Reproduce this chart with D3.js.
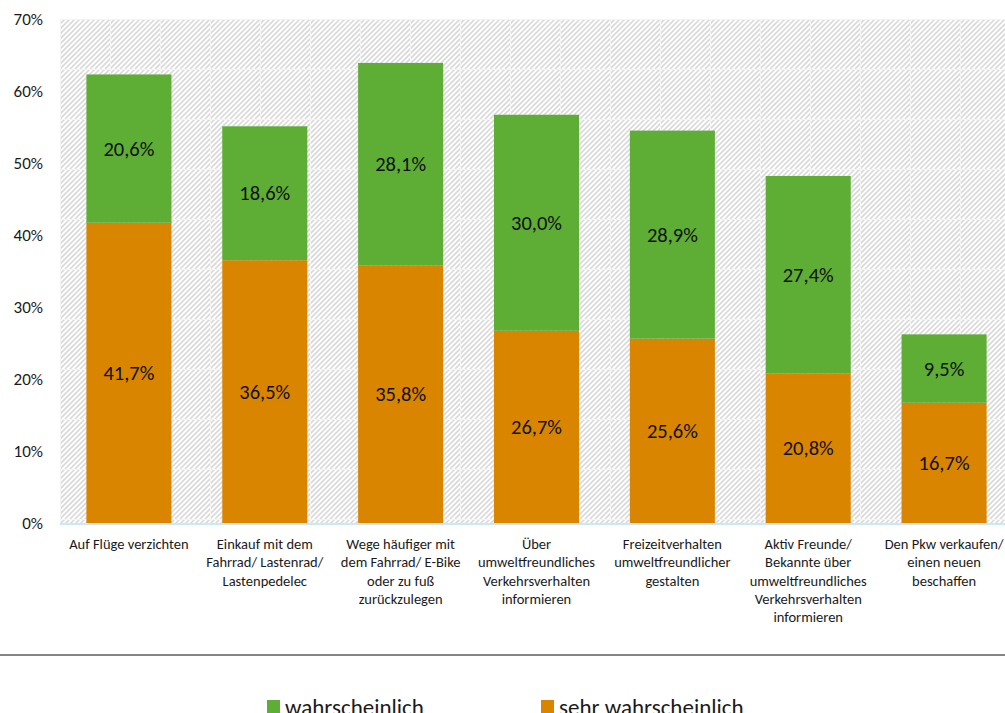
<!DOCTYPE html>
<html><head><meta charset="utf-8">
<script src="https://cdn.jsdelivr.net/npm/d3@7"></script>
<style>
html,body{margin:0;padding:0;background:#fff;overflow:hidden;}
svg{display:block;font-family:Carlito,Calibri,Lato,"Open Sans",sans-serif;}
</style></head><body>
<svg id="chart" width="1005" height="713"></svg>
<script>
const categories = [
  ["Auf Flüge verzichten"],
  ["Einkauf mit dem","Fahrrad/ Lastenrad/","Lastenpedelec"],
  ["Wege häufiger mit","dem Fahrrad/ E-Bike","oder zu fuß","zurückzulegen"],
  ["Über","umweltfreundliches","Verkehrsverhalten","informieren"],
  ["Freizeitverhalten","umweltfreundlicher","gestalten"],
  ["Aktiv Freunde/","Bekannte über","umweltfreundliches","Verkehrsverhalten","informieren"],
  ["Den Pkw verkaufen/","einen neuen","beschaffen"]
];
const sehrWahrscheinlich = [41.7, 36.5, 35.8, 26.7, 25.6, 20.8, 16.7];
const wahrscheinlich = [20.6, 18.6, 28.1, 30.0, 28.9, 27.4, 9.5];
const yTicks = [0, 10, 20, 30, 40, 50, 60, 70];
const seriesNames = ["wahrscheinlich", "sehr wahrscheinlich"];
const colors = {green: "#5EAD35", orange: "#D98500"};

const svg = d3.select("#chart");
const pLeft = 60, pTop = 19, pBottom = 523, pRight = 1012;

const x = d3.scaleBand().domain(d3.range(categories.length)).range([pLeft + 1, pRight]).paddingInner(0.374).paddingOuter(0.187);
const y = d3.scaleLinear().domain([0, 70]).range([pBottom, pTop]);

const defs = svg.append("defs");
const pat = defs.append("pattern").attr("id","hatch").attr("patternUnits","userSpaceOnUse")
  .attr("x", pLeft).attr("y", pTop).attr("width", 50).attr("height", 50);
pat.append("rect").attr("width",50).attr("height",50).attr("fill","#fff");
for (let o = -55; o <= 55; o += 5) {
  pat.append("line").attr("x1", o).attr("y1", 50).attr("x2", o + 50).attr("y2", 0)
    .attr("stroke", "#d9d9d9").attr("stroke-width", 1.6);
}
pat.append("line").attr("x1",0.5).attr("y1",0).attr("x2",0.5).attr("y2",50).attr("stroke","#f4f4f4").attr("stroke-width",1);
pat.append("line").attr("x1",0).attr("y1",0.5).attr("x2",50).attr("y2",0.5).attr("stroke","#f4f4f4").attr("stroke-width",1);

svg.append("rect").attr("x", pLeft).attr("y", pTop).attr("width", pRight - pLeft).attr("height", pBottom - pTop)
  .attr("fill", "url(#hatch)");

const yAxis = d3.axisLeft(y).tickValues(yTicks).tickFormat(d => d + "%").tickSize(0).tickPadding(17);
const ya = svg.append("g").attr("transform", `translate(${pLeft},0)`).call(yAxis);
ya.select(".domain").remove();
ya.selectAll("text").attr("font-size", 17).attr("fill", "#1a1a1a").attr("font-family", "Carlito,Calibri,Lato,sans-serif");

const g = svg.append("g");
const fmt = v => v.toFixed(1).replace(".", ",") + "%";
categories.forEach((c, i) => {
  const s = sehrWahrscheinlich[i], w = wahrscheinlich[i];
  g.append("rect").attr("x", x(i)).attr("width", x.bandwidth())
    .attr("y", y(s)).attr("height", y(0) - y(s)).attr("fill", colors.orange);
  g.append("rect").attr("x", x(i)).attr("width", x.bandwidth())
    .attr("y", y(s + w)).attr("height", y(s) - y(s + w)).attr("fill", colors.green);
  g.append("text").attr("x", x(i) + x.bandwidth()/2).attr("y", (y(0) + y(s))/2)
    .attr("text-anchor","middle").attr("dominant-baseline","central")
    .attr("font-size", 20.5).attr("fill", "#111").text(fmt(s));
  g.append("text").attr("x", x(i) + x.bandwidth()/2).attr("y", (y(s) + y(s + w))/2)
    .attr("text-anchor","middle").attr("dominant-baseline","central")
    .attr("font-size", 20.5).attr("fill", "#111").text(fmt(w));
});

svg.append("line").attr("x1", pLeft).attr("x2", pRight).attr("y1", pBottom + 1).attr("y2", pBottom + 1)
  .attr("stroke", "#cde8f5").attr("stroke-width", 2);

categories.forEach((lines, i) => {
  const cx = x(i) + x.bandwidth()/2;
  const t = svg.append("text").attr("x", cx).attr("y", 549)
    .attr("text-anchor", "middle").attr("font-size", 14.5).attr("fill", "#1a1a1a");
  lines.forEach((l, k) => t.append("tspan").attr("x", cx).attr("dy", k === 0 ? 0 : 18.3).text(l));
});

svg.append("line").attr("x1", 0).attr("x2", 1005).attr("y1", 655).attr("y2", 655)
  .attr("stroke", "#858585").attr("stroke-width", 2);

const legendX = [267, 541];
const legendColors = [colors.green, colors.orange];
seriesNames.forEach((n, i) => {
  svg.append("rect").attr("x", legendX[i]).attr("y", 700).attr("width", 13).attr("height", 13).attr("fill", legendColors[i]);
  svg.append("text").attr("x", legendX[i] + 18).attr("y", 715).attr("font-size", 23).attr("fill", "#1a1a1a").text(n);
});
</script>
</body></html>
